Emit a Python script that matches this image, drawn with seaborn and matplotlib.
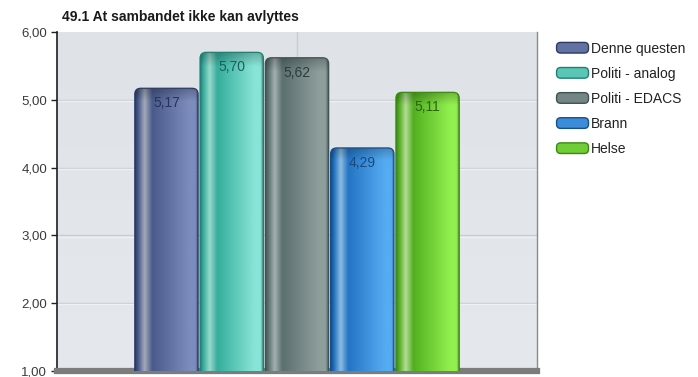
import numpy as np
import pandas as pd
import matplotlib
matplotlib.use("Agg")
import matplotlib.pyplot as plt
from matplotlib.patches import FancyBboxPatch, Patch
from matplotlib.legend_handler import HandlerPatch
from matplotlib.colors import to_rgb
import seaborn as sns

title = "49.1 At sambandet ikke kan avlyttes"
series = ["Denne questen", "Politi - analog", "Politi - EDACS", "Brann", "Helse"]
values = [5.17, 5.70, 5.62, 4.29, 5.11]
yticks = [1, 2, 3, 4, 5, 6]

# dark edge, highlight stripe, base, light side per series
shades = {
    "Denne questen": ("#2c3a62", "#a3abb8", "#4a5a8c", "#7c8cbc"),
    "Politi - analog": ("#1f7f72", "#9ad8cc", "#34ae9c", "#88e4d6"),
    "Politi - EDACS": ("#3e5252", "#a4b0b0", "#5c7070", "#8e9e9c"),
    "Brann": ("#174f8a", "#8cbde0", "#2474c4", "#56acf2"),
    "Helse": ("#3a8a12", "#b4dc98", "#52b020", "#92f04e"),
}
label_colors = {
    "Denne questen": "#26335a",
    "Politi - analog": "#1d5f58",
    "Politi - EDACS": "#2c3c3c",
    "Brann": "#1a4a7c",
    "Helse": "#2c6410",
}

df = pd.DataFrame({"grp": [""] * len(series), "serie": series, "value": values})

sns.set_theme(style="white")
plt.rcParams["font.family"] = ["Liberation Sans", "DejaVu Sans"]

fig = plt.figure(figsize=(6.98, 3.77), dpi=100)
ax = fig.add_axes([57 / 698, 6 / 377, 480 / 698, 339 / 377])

palette = {s: shades[s][2] for s in series}
sns.barplot(data=df, x="grp", y="value", hue="serie", hue_order=series,
            palette=palette, width=0.68, gap=0.03, dodge=True, legend=False,
            ax=ax, zorder=3)

ax.set_xlim(-0.5, 0.5)
ax.set_ylim(1, 6)

# plot background
bg = np.linspace(0, 1, 64)[:, None]
c_top = np.array(to_rgb("#dfe2e7"))
c_bot = np.array(to_rgb("#e5e8ec"))
bg_img = c_top[None, None, :] * (1 - bg[..., None]) + c_bot[None, None, :] * bg[..., None]
ax.imshow(bg_img, extent=[0, 1, 0, 1], transform=ax.transAxes, aspect="auto",
          zorder=0, interpolation="bilinear")

# grid lines with a soft lighter line underneath
for yv in yticks[1:-1]:
    ax.axhline(yv, color="#c9ccd2", lw=1.0, zorder=1)
    ax.axhline(yv - 0.018, color="#eef0f3", lw=1.0, zorder=1)
ax.axvline(0, color="#c9ccd2", lw=1.0, zorder=1)

xpx = 1.0 / 480
ypx = 5.0 / 339
aspect = ypx / xpx


def profile(dark, hi, base, light, n=200):
    t = np.linspace(0, 1, n)
    stops = [0.0, 0.05, 0.15, 0.27, 0.85, 0.95, 1.0]
    cols = [dark, base, hi, base, light, light, dark]
    cols = np.array([to_rgb(c) for c in cols])
    return np.stack([np.interp(t, stops, cols[:, k]) for k in range(3)], axis=-1)


bars = [p for p in ax.patches if p.get_height() > 0]
for p, s in zip(bars, series):
    x0, w, h = p.get_x(), p.get_width(), p.get_height()
    p.set_visible(False)
    dark, hi, base, light = shades[s]
    row = profile(dark, hi, base, light)
    # darker band along the top of each bar
    nrow = 120
    img = np.repeat(row[None, :, :], nrow, axis=0)
    frac_px = h / ypx
    shade = np.ones(nrow)
    k = int(nrow * 14 / frac_px) + 1
    shade[:k] = np.linspace(0.78, 1.0, k)
    img = np.clip(img * shade[:, None, None], 0, 1)
    box = FancyBboxPatch((x0, 0), w, h, boxstyle="round,pad=0,rounding_size=%f" % (6 * xpx),
                         mutation_aspect=aspect, transform=ax.transData,
                         facecolor="none", edgecolor=dark, lw=0.9, zorder=4)
    ax.add_patch(box)
    im = ax.imshow(img, extent=[x0, x0 + w, 0, h], aspect="auto", zorder=3,
                   interpolation="bilinear", origin="upper")
    im.set_clip_path(box)
    ax.text(x0 + w / 2, h - 15 * ypx, f"{h:.2f}".replace(".", ","), ha="center",
            va="center", fontsize=10, color=label_colors[s], zorder=5)

ax.set_xlim(-0.5, 0.5)
ax.set_ylim(1, 6)
ax.set_aspect("auto")

ax.set_xlabel("")
ax.set_ylabel("")
ax.set_xticks([])
ax.set_yticks(yticks)
ax.set_yticklabels([f"{v:.2f}".replace(".", ",") for v in yticks], fontsize=9.5, color="#3a3a3a")
ax.tick_params(axis="y", left=True, length=4, width=1, color="#222222", pad=3)

ax.spines["top"].set_visible(False)
ax.spines["left"].set_color("#1e1e1e")
ax.spines["left"].set_linewidth(1.2)
ax.spines["right"].set_color("#8a8a8a")
ax.spines["right"].set_linewidth(1.0)
ax.spines["bottom"].set_color("#7c7c7c")
ax.spines["bottom"].set_linewidth(4.5)

fig.text(62 / 698, 1 - 17 / 377, title, fontsize=10, fontweight="bold",
         color="#1a1a1a", va="center", ha="left")


def mix(c1, c2, a):
    return tuple((1 - a) * np.array(to_rgb(c1)) + a * np.array(to_rgb(c2)))


class RoundedSwatch(HandlerPatch):
    def create_artists(self, legend, orig_handle, xdescent, ydescent, width, height,
                       fontsize, trans):
        p = FancyBboxPatch((-xdescent, -ydescent), width, height,
                           boxstyle="round,pad=0,rounding_size=3",
                           facecolor=orig_handle.get_facecolor(),
                           edgecolor=orig_handle.get_edgecolor(), lw=1.0, transform=trans)
        return [p]


handles = [Patch(facecolor=mix(shades[s][2], shades[s][3], 0.45), edgecolor=shades[s][0], lw=1.0)
           for s in series]
leg = fig.legend(handles, series, loc="upper left", bbox_to_anchor=(551 / 698, 1 - 36 / 377),
                 frameon=False, fontsize=10, handlelength=2.3, handleheight=0.8,
                 handletextpad=0.15, labelspacing=0.80, borderaxespad=0,
                 handler_map={Patch: RoundedSwatch()})
for t in leg.get_texts():
    t.set_color("#222222")

fig.savefig("out.png", dpi=100)
